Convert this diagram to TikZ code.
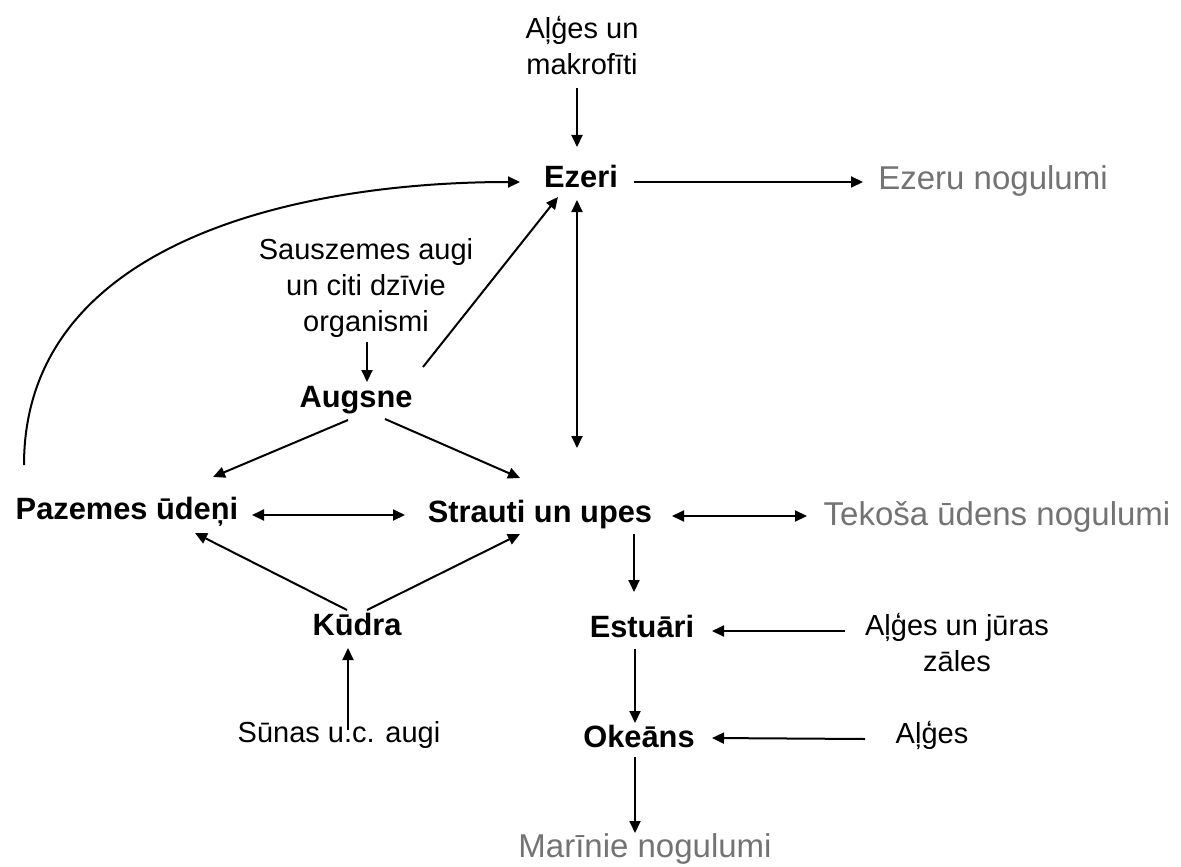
\documentclass[tikz,border=0pt]{standalone}
\usepackage{fontspec}
\setmainfont{Liberation Sans}
\usetikzlibrary{arrows.meta,calc}

\begin{document}
\begin{tikzpicture}[x=0.5pt,y=-0.5pt,
    pool/.style={font=\bfseries\fontsize{15.4}{18}\selectfont,inner sep=0pt,anchor=base},
    src/.style={font=\fontsize{14.5}{18}\selectfont,inner sep=0pt,align=center},
    sed/.style={font=\fontsize{16.5}{20}\selectfont,text=black!55,inner sep=0pt,anchor=base},
    flow/.style={-{Triangle[length=6pt,width=5.5pt]},line width=1pt},
    both/.style={{Triangle[length=6pt,width=5.5pt]}-{Triangle[length=6pt,width=5.5pt]},line width=1pt}]
  \useasboundingbox (0,0) rectangle (1181,866);

  \node[pool] (ezeri) at (581,188) {Ezeri};
  \node[pool] (augsne) at (356,407) {Augsne};
  \node[pool] (pazemes) at (127,519) {Pazemes ūdeņi};
  \node[pool] (strauti) at (540,522) {Strauti un upes};
  \node[pool] (kudra) at (357,635) {Kūdra};
  \node[pool] (estuari) at (642,637) {Estuāri};
  \node[pool] (okeans) at (639,747) {Okeāns};

  \node[src,anchor=south] (makro) at (582,75) {Aļģes un\\makrofīti};
  \node[src,anchor=south] (sauszemes) at (366,338) {Sauszemes augi\\un citi dzīvie\\organismi};
  \node[src,anchor=base] (sunas) at (339,742) {Sūnas u.c. augi};
  \node[src,anchor=south] (jura) at (957,672) {Aļģes un jūras\\zāles};
  \node[src,anchor=base] (alges) at (932,743) {Aļģes};

  \node[sed] (ezeru) at (993,190) {Ezeru nogulumi};
  \node[sed] (tekosa) at (997,525) {Tekoša ūdens nogulumi};
  \node[sed] (marinie) at (645,857) {Marīnie nogulumi};

  \draw[flow] ($(makro.south)+(-5,13)$) -- ($(ezeri.base)+(-4,-41)$);
  \draw[flow] ($(ezeri.base)+(53,-6)$) -- ($(ezeru.base)+(-130,-8)$);
  \draw[flow] ($(pazemes.base)+(-103,-54)$) to[out=90,in=180] ($(ezeri.base)+(-61,-6)$);
  \draw[flow] ($(augsne.base)+(67,-40)$) -- ($(ezeri.base)+(-23,9)$);
  \draw[both] ($(ezeri.base)+(-4,12)$) -- ($(strauti.base)+(37,-74)$);
  \draw[flow] ($(sauszemes.south)+(1,4)$) -- ($(augsne.base)+(11,-25)$);
  \draw[flow] ($(augsne.base)+(-8,13)$) -- ($(pazemes.base)+(86,-42)$);
  \draw[flow] ($(augsne.base)+(29,12)$) -- ($(strauti.base)+(-20,-44)$);
  \draw[both] ($(pazemes.base)+(125,-4)$) -- ($(strauti.base)+(-135,-7)$);
  \draw[both] ($(strauti.base)+(132,-6)$) -- ($(tekosa.base)+(-190,-9)$);
  \draw[flow] ($(kudra.base)+(-10,-25)$) -- ($(pazemes.base)+(68,14)$);
  \draw[flow] ($(kudra.base)+(10,-25)$) -- ($(strauti.base)+(-20,12)$);
  \draw[flow] ($(sunas.base)+(9,-12)$) -- ($(kudra.base)+(-9,13)$);
  \draw[flow] ($(strauti.base)+(94,12)$) -- ($(estuari.base)+(-8,-45)$);
  \draw[flow] ($(jura.west |- estuari.base)+(-20,-6)$) -- ($(estuari.base)+(70,-6)$);
  \draw[flow] ($(estuari.base)+(-7,12)$) -- ($(okeans.base)+(-4,-24)$);
  \draw[flow] ($(alges.base)+(-67,-4)$) -- ($(okeans.base)+(73,-9)$);
  \draw[flow] ($(okeans.base)+(-4,10)$) -- ($(marinie.base)+(-10,-24)$);
\end{tikzpicture}
\end{document}
